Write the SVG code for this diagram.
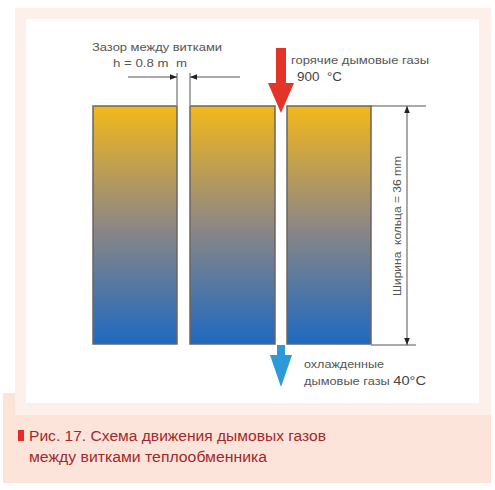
<svg xmlns="http://www.w3.org/2000/svg" width="495" height="490" viewBox="0 0 495 490">
<style>
.lbl{font-family:"Liberation Sans",Arial,sans-serif;fill:#555;font-size:10.5px;white-space:pre}
.cap{font-family:"Liberation Sans",Arial,sans-serif;fill:#a3282b;font-size:14px}
.blk{stroke:#6b6560;stroke-width:1.5}
.dim{stroke:#555;stroke-width:1;fill:none}
</style>
<defs>
<linearGradient id="g" x1="0" y1="0" x2="0" y2="1">
<stop offset="0" stop-color="#f3b81a"/>
<stop offset="0.5" stop-color="#8f8783"/>
<stop offset="1" stop-color="#1f69c0"/>
</linearGradient>
<marker id="ah" viewBox="0 0 10 10" refX="10" refY="5" markerWidth="7" markerHeight="7" orient="auto-start-reverse" markerUnits="userSpaceOnUse">
<path d="M0,1 L10,5 L0,9 z" fill="#222"/>
</marker>
</defs>
<rect width="495" height="490" fill="#fff"/>
<rect x="3" y="393" width="488" height="90" fill="#fde4da"/>
<rect x="15" y="8" width="476" height="407" fill="#fdf0ea"/>
<rect x="26" y="19" width="453" height="384" fill="#fff"/>

<g id="block1"><rect class="blk" x="93" y="106" width="84" height="238" fill="url(#g)"/></g>
<g id="block2"><rect class="blk" x="190" y="106" width="85" height="238" fill="url(#g)"/></g>
<g id="block3"><rect class="blk" x="287" y="106" width="84" height="238" fill="url(#g)"/></g>

<g id="connectors">
<line class="dim" x1="177" y1="73" x2="177" y2="105"/>
<line class="dim" x1="190" y1="73" x2="190" y2="105"/>
<line class="dim" x1="128" y1="77" x2="177" y2="77" marker-end="url(#ah)"/>
<line class="dim" x1="240" y1="77" x2="190" y2="77" marker-end="url(#ah)"/>
<line class="dim" x1="371" y1="106" x2="426" y2="106"/>
<line class="dim" x1="371" y1="345" x2="416" y2="345"/>
<line class="dim" x1="407" y1="225" x2="407" y2="106" marker-end="url(#ah)"/>
<line class="dim" x1="407" y1="225" x2="407" y2="345" marker-end="url(#ah)"/>
<path d="M276,48 H286 V83 H294 L281,113 L268,83 H276 Z" fill="#e3342a"/>
<path d="M277,345 H285 V355 H292 L281,387 L270,355 H277 Z" fill="#2c9ad9"/>
</g>

<g id="labels">
<text class="lbl" x="92" y="51" textLength="130" lengthAdjust="spacingAndGlyphs">Зазор между витками</text>
<text class="lbl" x="113" y="67" textLength="74" lengthAdjust="spacingAndGlyphs">h = 0.8 m  m</text>
<text class="lbl" x="291" y="64" textLength="138" lengthAdjust="spacingAndGlyphs">горячие дымовые газы</text>
<text class="lbl" x="297" y="81" textLength="45" lengthAdjust="spacingAndGlyphs" style="font-size:12px;fill:#444">900  °C</text>
<text class="lbl" x="304" y="368" textLength="80" lengthAdjust="spacingAndGlyphs">охлажденные</text>
<text class="lbl" x="304" y="385" textLength="122" lengthAdjust="spacingAndGlyphs">дымовые газы <tspan style="font-size:12px;fill:#444">40°C</tspan></text>
<text class="lbl" transform="translate(401,226) rotate(-90)" text-anchor="middle" textLength="140" lengthAdjust="spacingAndGlyphs">Ширина  кольца = 36 mm</text>
</g>

<g id="caption">
<rect x="18" y="430" width="6" height="11" fill="#e52a2a"/>
<text class="cap" x="29" y="441" textLength="297" lengthAdjust="spacingAndGlyphs">Рис. 17. Схема движения дымовых газов</text>
<text class="cap" x="29" y="462" textLength="238" lengthAdjust="spacingAndGlyphs">между витками теплообменника</text>
</g>
</svg>
